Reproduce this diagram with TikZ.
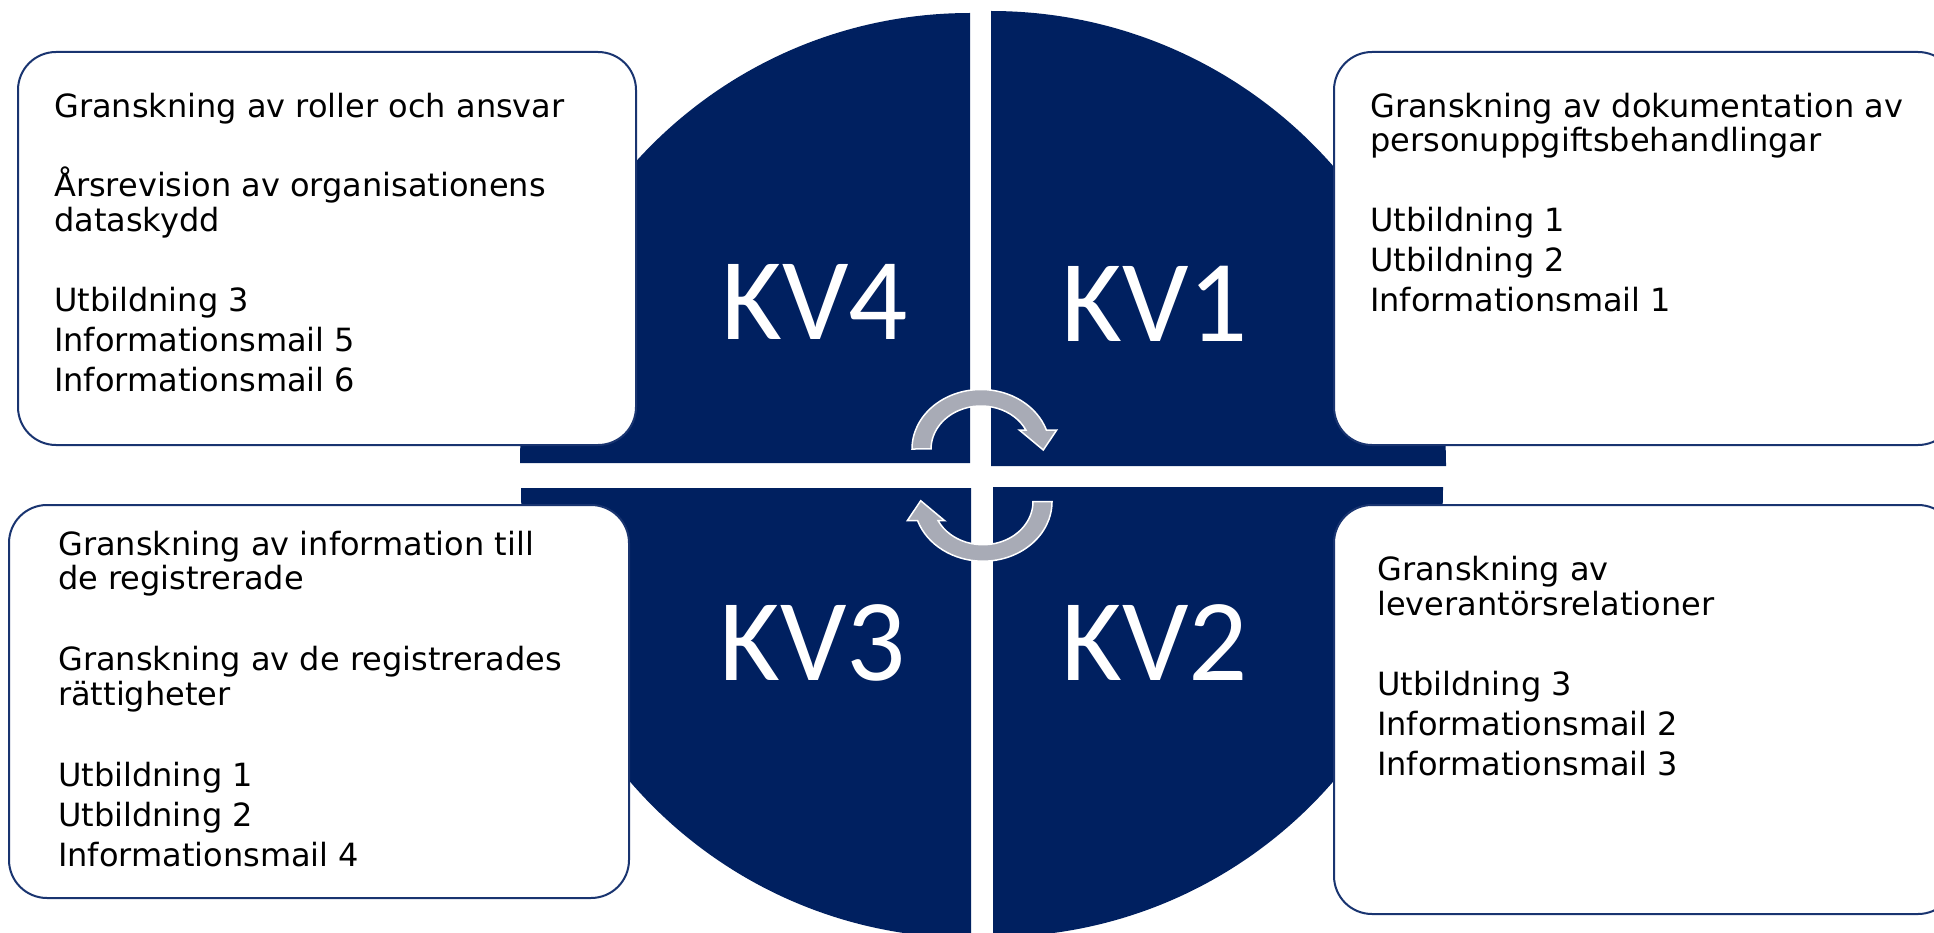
\documentclass[tikz,border=0pt]{standalone}
\usepackage{fontspec}
\setmainfont{DejaVu Sans}
\newfontfamily\kvfont{Carlito}
\definecolor{navy}{RGB}{0,32,96}
\definecolor{boxline}{RGB}{25,52,112}
\definecolor{arrowgray}{RGB}{168,171,182}
\tikzset{
  quad/.style={fill=navy},
  infobox/.style={draw=boxline, line width=2pt, fill=white, rounded corners=38pt, inner sep=0pt},
  txt/.style={anchor=base west, inner sep=0pt, font=\fontsize{32}{35}\selectfont},
  kv/.style={anchor=base, inner sep=0pt, text=white, font=\kvfont\fontsize{117}{117}\selectfont},
  cyc/.style={fill=arrowgray, draw=white, line width=1.5pt, line join=miter},
}
\newcommand{\kvcycarrow}[1]{%
  \filldraw[cyc,#1] (912,449) arc[start angle=180, end angle=341.4, x radius=69, y radius=59.5]
    -- (1056.7,430) -- (1043.3,450) -- (1019.3,430) -- (1025.9,430)
    arc[start angle=333.8, end angle=180, x radius=50, y radius=43] -- cycle;}
\begin{document}
\begin{tikzpicture}[x=1pt,y=-1pt]
\useasboundingbox (0,0) rectangle (1934,933);
\clip (0,0) rectangle (1934,933);
\fill[white] (0,0) rectangle (1934,933);

% quadrants
\fill[quad] (970,463) -- (520,463) arc[start angle=180, end angle=270, radius=450] -- cycle;
\fill[quad] (991,466) -- (991,11) arc[start angle=270, end angle=360, radius=455] -- cycle;
\fill[quad] (971,488) -- (521,488) arc[start angle=180, end angle=90, radius=450] -- cycle;
\fill[quad] (993,487) -- (1443,487) arc[start angle=0, end angle=90, radius=450] -- cycle;

% boxes
\node[infobox, minimum width=618pt, minimum height=393pt] (tlbox) at (327,248.5) {};
\node[infobox, minimum width=622pt, minimum height=393pt] (trbox) at (1645,248.5) {};
\node[infobox, minimum width=620pt, minimum height=393pt] (blbox) at (319,701.5) {};
\node[infobox, minimum width=622pt, minimum height=409pt] (brbox) at (1645,709.5) {};

% cycle arrows
\kvcycarrow{}
\kvcycarrow{rotate around={180:(982,475.35)}}

% quadrant labels
\node[kv] (kv4) at (814.5,339.3) {KV4};
\node[kv] (kv1) at (1155,341.7) {KV1};
\node[kv] (kv3) at (812.5,680) {KV3};
\node[kv] (kv2) at (1154.5,680) {KV2};

% top-left text
\node[txt] (tl1) at (54,117.3) {Granskning av roller och ansvar};
\node[txt] (tl2) at (54,196.7) {Årsrevision av organisationens};
\node[txt] (tl3) at (54,231.7) {dataskydd};
\node[txt] (tl4) at (54,311.7) {Utbildning 3};
\node[txt] (tl5) at (54,351.7) {Informationsmail 5};
\node[txt] (tl6) at (54,391.7) {Informationsmail 6};

% top-right text
\node[txt] (tr1) at (1370,117.3) {Granskning av dokumentation av};
\node[txt] (tr2) at (1370,151.7) {personuppgiftsbehandlingar};
\node[txt] (tr3) at (1370,231.7) {Utbildning 1};
\node[txt] (tr4) at (1370,271.7) {Utbildning 2};
\node[txt] (tr5) at (1370,311.7) {Informationsmail 1};

% bottom-left text
\node[txt] (bl1) at (58,555) {Granskning av information till};
\node[txt] (bl2) at (58,589) {de registrerade};
\node[txt] (bl3) at (58,670) {Granskning av de registrerades};
\node[txt] (bl4) at (58,705) {rättigheter};
\node[txt] (bl5) at (58,786.7) {Utbildning 1};
\node[txt] (bl6) at (58,826.7) {Utbildning 2};
\node[txt] (bl7) at (58,866.7) {Informationsmail 4};

% bottom-right text
\node[txt] (br1) at (1377,580.7) {Granskning av};
\node[txt] (br2) at (1377,615) {leverantörsrelationer};
\node[txt] (br3) at (1377,695) {Utbildning 3};
\node[txt] (br4) at (1377,735) {Informationsmail 2};
\node[txt] (br5) at (1377,775) {Informationsmail 3};
\end{tikzpicture}
\end{document}
